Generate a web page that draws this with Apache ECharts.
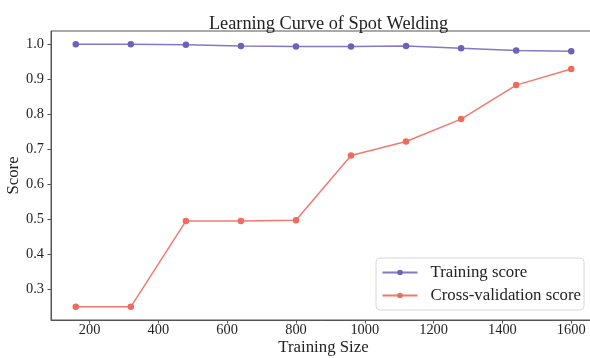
<!DOCTYPE html>
<html>
<head>
<meta charset="utf-8">
<script src="https://cdn.jsdelivr.net/npm/echarts@6/dist/echarts.min.js"></script>
<style>
  html, body { margin: 0; padding: 0; background: #fff; }
  #chart { width: 590px; height: 358px; }
</style>
</head>
<body>
<div id="chart"></div>
<script>
// Training set sizes and the mean scores at each size
const trainSizes = [160, 320, 480, 640, 800, 960, 1120, 1280, 1440, 1600];
const trainingScore = [1.0, 1.0, 0.998, 0.995, 0.993, 0.993, 0.995, 0.988, 0.982, 0.980];
const cvScore = [0.250, 0.250, 0.495, 0.495, 0.497, 0.682, 0.722, 0.786, 0.883, 0.929];

// Tick positions shown on the axes
const xTicks = [200, 400, 600, 800, 1000, 1200, 1400, 1600];
const yTicks = [0.3, 0.4, 0.5, 0.6, 0.7, 0.8, 0.9, 1.0];

const FONT = '"Liberation Serif", "Times New Roman", serif';
const AXIS_COLOR = '#555';
const TRAIN_COLOR = '#6c63b8';
const CV_COLOR = '#ee6b60';

const chart = echarts.init(document.getElementById('chart'), null, { renderer: 'canvas' });

chart.setOption({
  animation: false,
  backgroundColor: '#fff',
  title: {
    text: 'Learning Curve of Spot Welding',
    left: 323.5,
    textAlign: 'center',
    top: 10,
    textStyle: { fontFamily: FONT, fontSize: 18.3, fontWeight: 'normal', color: '#222' }
  },
  grid: {
    left: 51, right: -6, top: 31, bottom: 38,
    outerBoundsMode: 'none',
    containLabel: false,
    show: true, borderColor: AXIS_COLOR, borderWidth: 1, backgroundColor: 'transparent'
  },
  legend: {
    orient: 'vertical',
    left: 376, top: 258,
    padding: [6, 3, 6, 5.5],
    itemWidth: 35, itemHeight: 7, itemGap: 6,
    backgroundColor: 'rgba(255,255,255,0.85)',
    borderColor: '#d8d8d8', borderWidth: 1, borderRadius: 4,
    textStyle: { fontFamily: FONT, fontSize: 16.8, color: '#222', padding: [0, 0, 0, 8] },
    data: ['Training score', 'Cross-validation score']
  },
  xAxis: {
    type: 'value',
    min: 88, max: 1672,
    name: 'Training Size',
    nameLocation: 'middle',
    nameGap: 19,
    nameMoveOverlap: false,
    nameTextStyle: { fontFamily: FONT, fontSize: 16.8, color: '#222' },
    axisLine: { show: true, lineStyle: { color: AXIS_COLOR, width: 1 } },
    axisTick: { show: true, inside: false, length: 3.5, customValues: xTicks, lineStyle: { color: AXIS_COLOR } },
    axisLabel: {
      customValues: xTicks, margin: 3, fontFamily: FONT, fontSize: 14.4, color: '#222',
      formatter: v => String(v)
    },
    splitLine: { show: false }
  },
  yAxis: {
    type: 'value',
    min: 0.2125, max: 1.0375,
    name: 'Score',
    nameLocation: 'middle',
    nameGap: 29,
    nameMoveOverlap: false,
    nameTextStyle: { fontFamily: FONT, fontSize: 16.8, color: '#222' },
    axisLine: { show: true, lineStyle: { color: AXIS_COLOR, width: 1 } },
    axisTick: { show: true, inside: false, length: 3.5, customValues: yTicks, lineStyle: { color: AXIS_COLOR } },
    axisLabel: {
      customValues: yTicks, margin: 7, fontFamily: FONT, fontSize: 14.4, color: '#222',
      formatter: v => Number(v).toFixed(1)
    },
    splitLine: { show: false }
  },
  series: [
    {
      name: 'Training score',
      type: 'line',
      data: trainSizes.map((x, i) => [x, trainingScore[i]]),
      symbol: 'circle', symbolSize: 6.5,
      itemStyle: { color: TRAIN_COLOR },
      lineStyle: { color: TRAIN_COLOR, width: 1.5, opacity: 0.85 }
    },
    {
      name: 'Cross-validation score',
      type: 'line',
      data: trainSizes.map((x, i) => [x, cvScore[i]]),
      symbol: 'circle', symbolSize: 6.5,
      itemStyle: { color: CV_COLOR },
      lineStyle: { color: CV_COLOR, width: 1.5, opacity: 0.9 }
    }
  ]
});
</script>
</body>
</html>
